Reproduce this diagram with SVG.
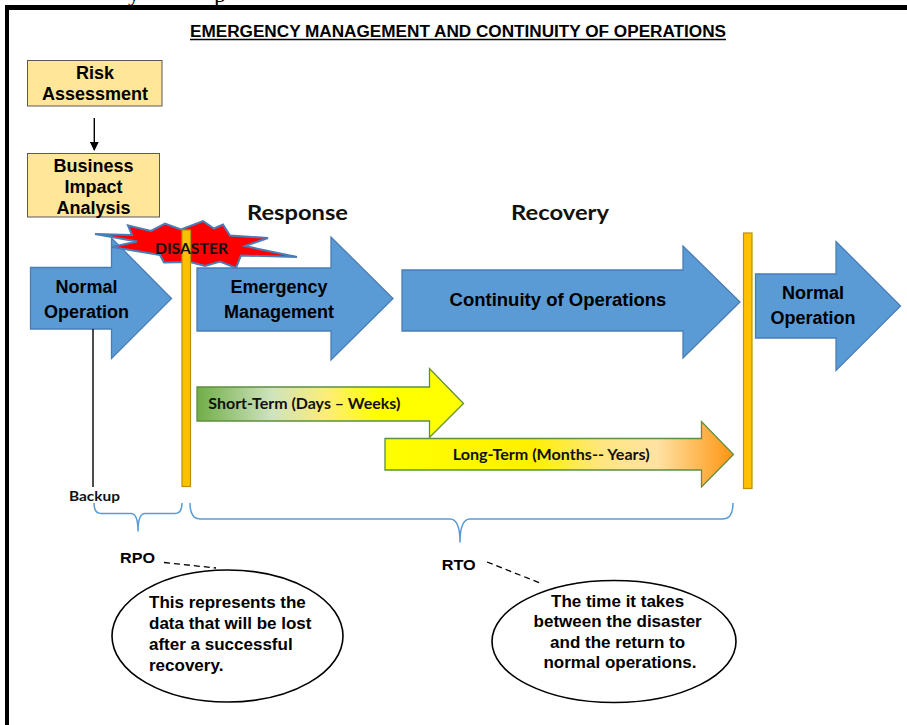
<svg xmlns="http://www.w3.org/2000/svg" width="907" height="725" viewBox="0 0 907 725">
  <defs>
    <style>
      .arial { font-family: "Liberation Sans", Arial, sans-serif; font-weight: bold; fill: #000; }
      .cal { font-family: Lato, "Open Sans", sans-serif; font-weight: bold; fill: #111; }
      .box { fill: #FFE699; stroke: #595959; stroke-width: 1; }
      .blue { fill: #5B9BD5; stroke: #4A7DB5; stroke-width: 1.3; }
      .bar { fill: #FFC000; stroke: #BF9000; stroke-width: 1.2; }
      .brace { fill: none; stroke: #5B9BD5; stroke-width: 1.5; }
      .dash { fill: none; stroke: #000; stroke-width: 1.3; stroke-dasharray: 6 4; }
      .bubble { fill: #fff; stroke: #000; stroke-width: 1.6; }
      .green { stroke: #5E8E3E; stroke-width: 1.3; }
    </style>
    <linearGradient id="gShort" gradientUnits="userSpaceOnUse" x1="197" y1="0" x2="464" y2="0">
      <stop offset="0" stop-color="#70AD47"/>
      <stop offset="0.28" stop-color="#CFE3BE"/>
      <stop offset="0.5" stop-color="#FFEE70"/>
      <stop offset="0.68" stop-color="#FFFF00"/>
      <stop offset="1" stop-color="#FFFF00"/>
    </linearGradient>
    <linearGradient id="gLong" gradientUnits="userSpaceOnUse" x1="385" y1="0" x2="734" y2="0">
      <stop offset="0" stop-color="#FFFF00"/>
      <stop offset="0.42" stop-color="#FFF000"/>
      <stop offset="0.62" stop-color="#FFE680"/>
      <stop offset="0.78" stop-color="#FFE2A4"/>
      <stop offset="1" stop-color="#FF9410"/>
    </linearGradient>
    <marker id="arrowHead" viewBox="0 0 10 10" refX="9" refY="5" markerWidth="9" markerHeight="9" markerUnits="userSpaceOnUse" orient="auto">
      <path d="M0,0 L10,5 L0,10 Z" fill="#000"/>
    </marker>
  </defs>

  <rect width="907" height="725" fill="#fff"/>

  <!-- fragments of the surrounding page text -->
  <text x="128" y="1" font-family="'Liberation Serif', serif" font-size="24" fill="#000">y</text>
  <text x="214" y="2" font-family="'Liberation Serif', serif" font-size="24" fill="#000">p</text>

  <!-- page frame -->
  <rect x="5" y="5" width="902" height="5" fill="#000"/>
  <rect x="5" y="5" width="4" height="720" fill="#000"/>

  <!-- title -->
  <g id="title">
    <text class="arial" x="458" y="36.5" font-size="16" text-anchor="middle" textLength="536" lengthAdjust="spacingAndGlyphs">EMERGENCY MANAGEMENT AND CONTINUITY OF OPERATIONS</text>
    <line x1="190" y1="39.5" x2="726" y2="39.5" stroke="#000" stroke-width="1.3"/>
  </g>

  <!-- planning boxes -->
  <g id="risk-assessment">
    <rect class="box" x="27.5" y="60.5" width="134.5" height="45.5"/>
    <text class="arial" x="95" y="79.3" font-size="18" text-anchor="middle">Risk</text>
    <text class="arial" x="95" y="99.5" font-size="18" text-anchor="middle">Assessment</text>
  </g>
  <g id="business-impact-analysis">
    <rect class="box" x="27.5" y="153.5" width="132" height="63.5"/>
    <text class="arial" x="93.5" y="171.7" font-size="18" text-anchor="middle">Business</text>
    <text class="arial" x="93.5" y="193.3" font-size="18" text-anchor="middle">Impact</text>
    <text class="arial" x="93.5" y="213.5" font-size="18" text-anchor="middle">Analysis</text>
  </g>

  <!-- phase headings -->
  <g id="response-label">
    <text class="cal" x="297.5" y="220" font-size="21" text-anchor="middle" textLength="101" lengthAdjust="spacingAndGlyphs">Response</text>
  </g>
  <g id="recovery-label">
    <text class="cal" x="560" y="220" font-size="21" text-anchor="middle" textLength="98" lengthAdjust="spacingAndGlyphs">Recovery</text>
  </g>

  <!-- phase arrows -->
  <g id="normal-operation-before">
    <path class="blue" d="M30.5,267.5 L111.5,267.5 L111.5,238 L171.5,298.5 L111.5,358.5 L111.5,329 L30.5,329 Z"/>
    <text class="arial" x="86.5" y="293.3" font-size="18" text-anchor="middle">Normal</text>
    <text class="arial" x="86.5" y="318.3" font-size="18" text-anchor="middle">Operation</text>
  </g>
  <g id="emergency-management">
    <path class="blue" d="M197,268 L331,268 L331,237 L393,298.5 L331,360 L331,331 L197,331 Z"/>
    <text class="arial" x="279" y="293.3" font-size="18" text-anchor="middle">Emergency</text>
    <text class="arial" x="279" y="318.3" font-size="18" text-anchor="middle">Management</text>
  </g>
  <g id="continuity-of-operations">
    <path class="blue" d="M402,270 L683,270 L683,246 L740,302 L683,358 L683,331 L402,331 Z"/>
    <text class="arial" x="558" y="306" font-size="18.5" text-anchor="middle">Continuity of Operations</text>
  </g>
  <g id="normal-operation-after">
    <path class="blue" d="M755.5,274 L836,274 L836,241.5 L900.5,306 L836,370.5 L836,338 L755.5,338 Z"/>
    <text class="arial" x="813" y="299" font-size="18" text-anchor="middle">Normal</text>
    <text class="arial" x="813" y="324" font-size="18" text-anchor="middle">Operation</text>
  </g>

  <!-- term arrows -->
  <g id="short-term">
    <path class="green" fill="url(#gShort)" d="M197,387 L429.5,387 L429.5,368.5 L463.5,403.5 L429.5,437.5 L429.5,421 L197,421 Z"/>
    <text class="cal" x="208.3" y="409.3" font-size="15" textLength="192" lengthAdjust="spacingAndGlyphs">Short-Term (Days – Weeks)</text>
  </g>
  <g id="long-term">
    <path class="green" fill="url(#gLong)" d="M385,438.5 L701.5,438.5 L701.5,421.5 L733.5,454.5 L701.5,487 L701.5,470 L385,470 Z"/>
    <text class="cal" x="452.7" y="460" font-size="15" textLength="197" lengthAdjust="spacingAndGlyphs">Long-Term (Months-- Years)</text>
  </g>

  <!-- disaster burst -->
  <g id="disaster">
    <polygon fill="#FF0000" stroke="#4A7DB5" stroke-width="2" stroke-linejoin="miter" points="95,234 132,235 128,225.5 151,231 165,223.5 181,229.5 203,221 214,228.5 223,224.5 230,235.5 268,238 245,246 297,257 241,255.5 236,268 220,261.5 205,266 190,262 164,262.5 160,255 112,247 137,241.5"/>
  </g>

  <!-- event markers -->
  <g id="disaster-marker">
    <rect class="bar" x="182" y="230" width="8.5" height="256.5"/>
  </g>
  <g id="return-marker">
    <rect class="bar" x="743.5" y="233" width="8.5" height="255.5"/>
  </g>
  <text class="cal" x="191.5" y="254.3" font-size="15.5" text-anchor="middle" textLength="73" lengthAdjust="spacingAndGlyphs" fill="#111">DISASTER</text>

  <!-- backup point -->
  <g id="backup">
    <text class="cal" x="94.5" y="500.5" font-size="13.5" text-anchor="middle" textLength="51" lengthAdjust="spacingAndGlyphs">Backup</text>
  </g>

  <!-- RPO / RTO annotations -->
  <g id="rpo">
    <text class="arial" x="120" y="562.7" font-size="15" textLength="35" lengthAdjust="spacingAndGlyphs">RPO</text>
  </g>
  <g id="rto">
    <text class="arial" x="441.7" y="570" font-size="15" textLength="34" lengthAdjust="spacingAndGlyphs">RTO</text>
  </g>
  <g id="rpo-note">
    <ellipse class="bubble" cx="227.5" cy="636" rx="115.5" ry="66"/>
    <text class="arial" font-size="17">
      <tspan x="149" y="608.3">This represents the</tspan>
      <tspan x="149" y="629.3">data that will be lost</tspan>
      <tspan x="149" y="650">after a successful</tspan>
      <tspan x="149" y="670.5">recovery.</tspan>
    </text>
  </g>
  <g id="rto-note">
    <ellipse class="bubble" cx="614" cy="641.5" rx="122" ry="61"/>
    <text class="arial" font-size="17" text-anchor="middle">
      <tspan x="620" y="606.7">The time it takes</tspan>
      <tspan x="620" y="627.3">between the disaster</tspan>
      <tspan x="620" y="647.8">and the return to</tspan>
      <tspan x="620" y="668.3">normal operations.</tspan>
    </text>
  </g>

  <!-- connectors -->
  <g id="connectors">
    <line x1="94.3" y1="118" x2="94.3" y2="150" stroke="#000" stroke-width="1.4" marker-end="url(#arrowHead)"/>
    <line x1="93" y1="329" x2="93" y2="487" stroke="#000" stroke-width="1.4"/>
    <path class="brace" d="M94,503 Q94,513.5 101,513.5 L131,513.5 Q138,513.5 138,531.5 Q138,513.5 145,513.5 L175,513.5 Q182,513.5 182,503"/>
    <path class="brace" d="M190,503 Q190,519 200,519 L450,519 Q460,519 460,542.5 Q460,519 470,519 L723,519 Q733,519 733,503"/>
    <line class="dash" x1="164" y1="562.5" x2="216" y2="568"/>
    <line class="dash" x1="487" y1="562" x2="540" y2="583"/>
  </g>
</svg>
